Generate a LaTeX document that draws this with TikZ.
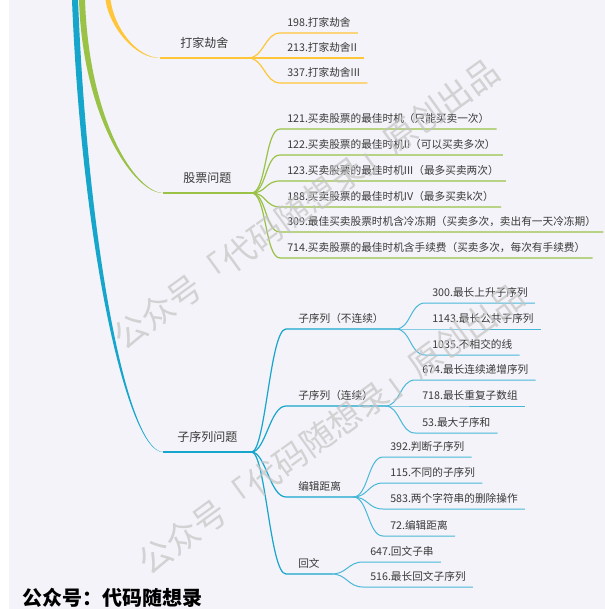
\documentclass[tikz,border=0pt]{standalone}
\usepackage{fontspec}
\setmainfont{Noto Sans CJK SC}
\usepackage{tikz}
\usetikzlibrary{positioning}

\definecolor{bgcol}{RGB}{243,243,249}
\definecolor{robcol}{RGB}{255,198,58}
\definecolor{stockcol}{RGB}{154,194,70}
\definecolor{subcol}{RGB}{22,166,204}
\definecolor{subleaf}{RGB}{72,184,216}
\definecolor{txtcol}{RGB}{58,58,58}
\definecolor{markcol}{RGB}{196,196,196}

\tikzset{
  cat/.style={anchor=south west, minimum width=66pt, inner xsep=0pt, inner ysep=6pt,
    text height=6.8pt, text depth=1.5pt, font=\fontsize{9}{11}\selectfont, text=txtcol},
  topic/.style={anchor=south west, inner xsep=9pt, inner ysep=3pt,
    text height=6pt, text depth=1.5pt, font=\fontsize{8}{10}\selectfont, text=txtcol},
  leaf/.style={anchor=south west, inner xsep=5.25pt, inner ysep=3pt,
    text height=6pt, text depth=1.5pt, font=\fontsize{8}{10}\selectfont, text=txtcol},
  robline/.style={draw=robcol, line width=0.9pt},
  stockline/.style={draw=stockcol, line width=0.9pt},
  subline/.style={draw=subcol, line width=0.9pt},
  leafline/.style={draw=subleaf, line width=0.75pt},
  stamp/.style={rotate=36, font=\fontsize{25}{25}\selectfont, text=markcol, text opacity=0.7},
}

\begin{document}
\begin{tikzpicture}[x=0.75pt, y=-0.75pt]
    \useasboundingbox (0,0) rectangle (605,609);
    \clip (0,0) rectangle (605,609);
    % background
    \fill[white] (0,0) rectangle (605,609);
    \fill[bgcol] (9,0) rectangle (605,609);

    % draw main topics
    \node[cat] (rob) at (160,58) {打家劫舍};
    \node[cat] (stock) at (163,193) {股票问题};
    \node[cat] (sub) at (163,452) {子序列问题};

    % draw trunks from above
    \coordinate (yl) at (105.5,0);
    \coordinate (yr) at (110.5,0);
    \coordinate (gl) at (79,0);
    \coordinate (gr) at (85,0);
    \coordinate (bl) at (72,0);
    \coordinate (br) at (78,0);
    \fill[robcol] (yl) .. controls (109.5,28) and (136,59) .. (rob.south west)
      .. controls (136,57) and (114.5,28) .. (yr) -- cycle;
    \fill[stockcol] (gl) .. controls (83,120) and (135,194) .. (stock.south west)
      .. controls (135,192) and (89,120) .. (gr) -- cycle;
    \fill[subcol] (bl) .. controls (82,250) and (128,453) .. (sub.south west)
      .. controls (128,451) and (88,250) .. (br) -- cycle;
    \draw[robline, line width=1.1pt] (rob.south west) -- (rob.south east);
    \draw[stockline, line width=1.1pt] (stock.south west) -- (stock.south east);
    \draw[subline, line width=1.1pt] (sub.south west) -- (sub.south east);

    % draw house robber leaves
    \foreach \n/\y/\t in {r1/33/198.打家劫舍, r2/58/213.打家劫舍II, r3/83/337.打家劫舍III}
      \node[leaf] (\n) at (280,\y) {\t};
    \foreach \n in {r1,r2,r3}
      \draw[robline] (rob.south east) .. controls +(15,0) and +(-15,0) .. (\n.south west) -- (\n.south east);

    % draw stock leaves
    \foreach \n/\y/\t in {s1/129/121.买卖股票的最佳时机（只能买卖一次）,
                          s2/155/122.买卖股票的最佳时机II（可以买卖多次）,
                          s3/181/123.买卖股票的最佳时机III（最多买卖两次）,
                          s4/207/188.买卖股票的最佳时机IV（最多买卖k次）,
                          s5/232/309.最佳买卖股票时机含冷冻期（买卖多次，卖出有一天冷冻期）,
                          s6/258/714.买卖股票的最佳时机含手续费（买卖多次，每次有手续费）}
      \node[leaf] (\n) at (280,\y) {\t};
    \foreach \n in {s1,s2,s3,s4,s5,s6}
      \draw[stockline] (stock.south east) .. controls +(15,0) and +(-15,0) .. (\n.south west) -- (\n.south east);

    % draw subsequence topics
    \node[topic] (nc) at (286,329) {子序列（不连续）};
    \node[topic] (ct) at (286,406) {子序列（连续）};
    \node[topic] (ed) at (286,497) {编辑距离};
    \node[topic] (pal) at (286,574) {回文};
    \foreach \n in {nc,ct,ed,pal}
      \draw[subline] (sub.south east) .. controls +(14,0) and +(-16,0) .. (\n.south west) -- (\n.south east);

    % draw subsequence leaves
    \foreach \n/\y/\t in {a1/303/300.最长上升子序列, a2/329/1143.最长公共子序列, a3/355/1035.不相交的线}
      \node[leaf] (\n) at (425,\y) {\t};
    \foreach \n/\y/\t in {b1/380/674.最长连续递增序列, b2/406/718.最长重复子数组, b3/433/53.最大子序和}
      \node[leaf] (\n) at (415,\y) {\t};
    \foreach \n/\y/\t in {e1/457/392.判断子序列, e2/483/115.不同的子序列, e3/509/583.两个字符串的删除操作, e4/536/72.编辑距离}
      \node[leaf] (\n) at (383,\y) {\t};
    \foreach \n/\y/\t in {p1/562/647.回文子串, p2/587/516.最长回文子序列}
      \node[leaf] (\n) at (363,\y) {\t};
    \foreach \n in {a1,a2,a3}
      \draw[leafline] (nc.south east) .. controls +(15,0) and +(-15,0) .. (\n.south west) -- (\n.south east);
    \foreach \n in {b1,b2,b3}
      \draw[leafline] (ct.south east) .. controls +(15,0) and +(-15,0) .. (\n.south west) -- (\n.south east);
    \foreach \n in {e1,e2,e3,e4}
      \draw[leafline] (ed.south east) .. controls +(15,0) and +(-15,0) .. (\n.south west) -- (\n.south east);
    \foreach \n in {p1,p2}
      \draw[leafline] (pal.south east) .. controls +(15,0) and +(-15,0) .. (\n.south west) -- (\n.south east);

    % watermarks and signature
    \node[stamp] (wm1) at (306,204) {公众号「代码随想录」原创出品};
    \node[stamp] (wm2) at (331,429) {公众号「代码随想录」原创出品};
    \node[anchor=west, font=\fontsize{15}{15}\selectfont\bfseries] (sign) at (18,598) {公众号：代码随想录};
\end{tikzpicture}
\end{document}
